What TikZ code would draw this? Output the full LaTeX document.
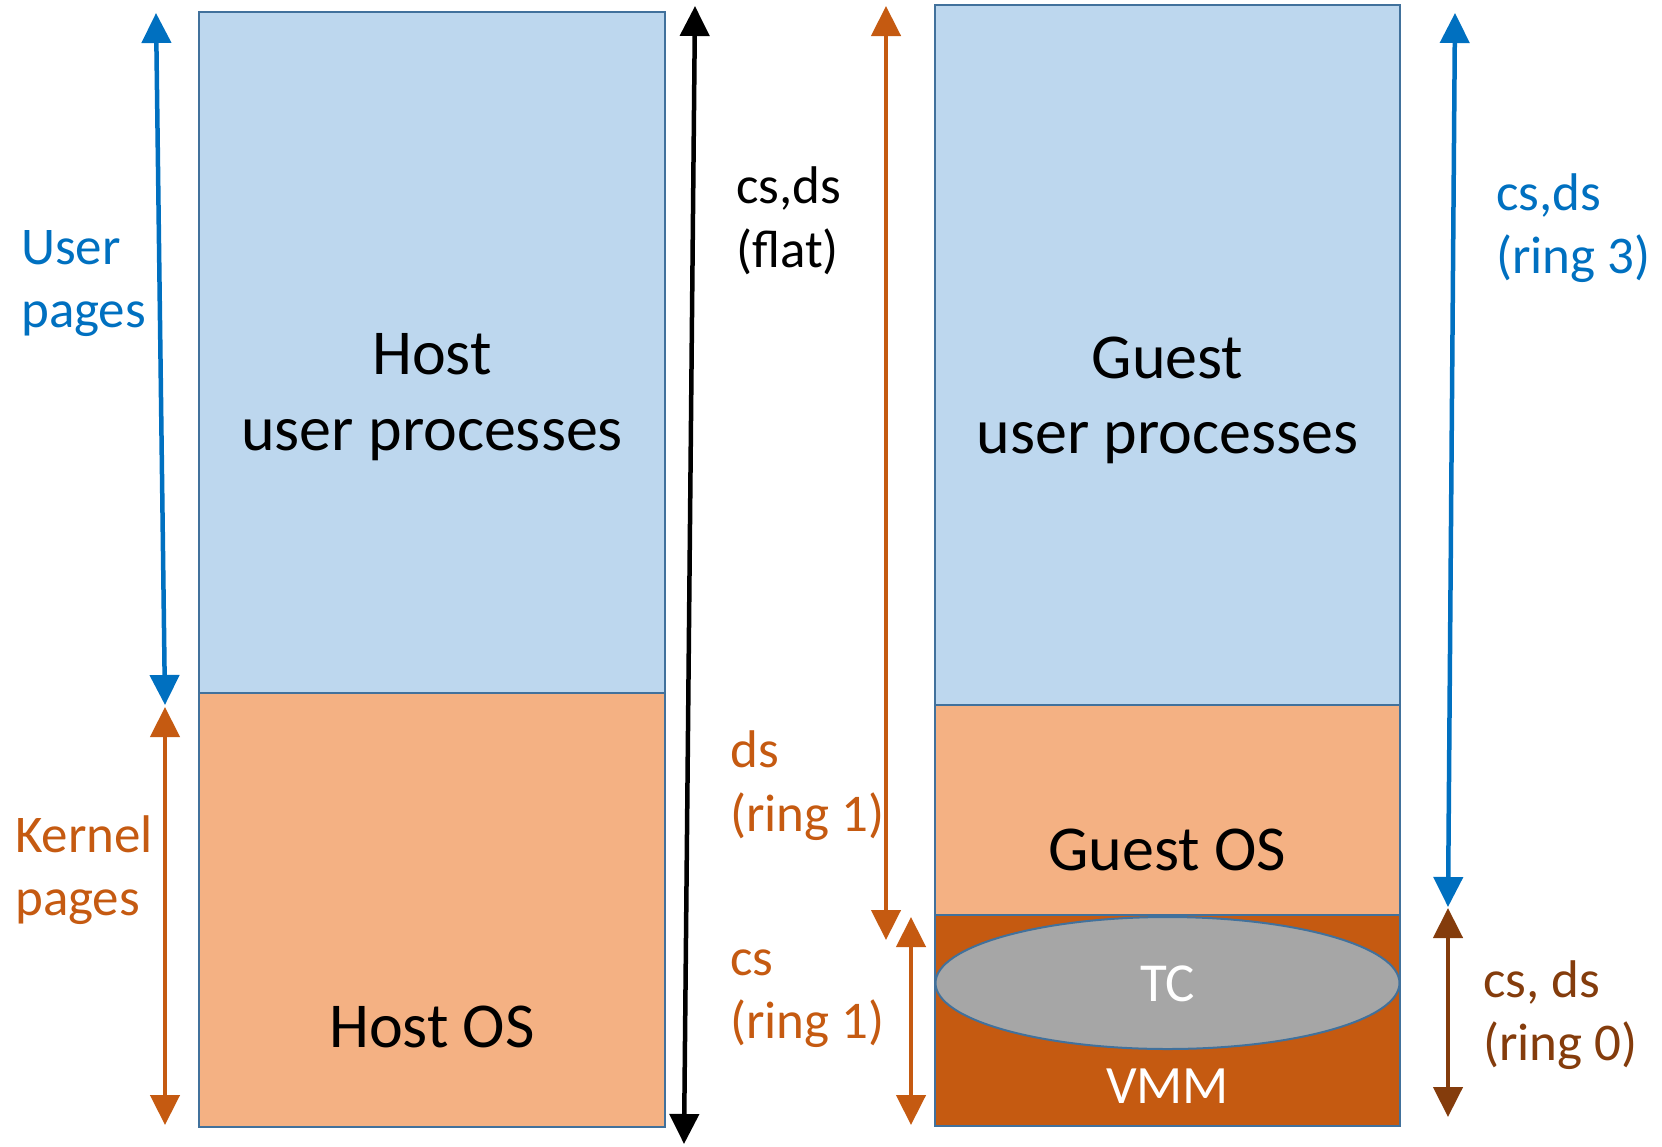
\documentclass[tikz,border=0pt]{standalone}
\usepackage{fontspec}
\setmainfont{Carlito}
\usetikzlibrary{arrows.meta,shapes.geometric}

\definecolor{userfill}{HTML}{BDD7EE}
\definecolor{kernfill}{HTML}{F4B183}
\definecolor{vmmfill}{HTML}{C55A11}
\definecolor{tcfill}{HTML}{A6A6A6}
\definecolor{edge}{HTML}{41719C}
\definecolor{ublue}{HTML}{0070C0}
\definecolor{korange}{HTML}{C55A11}
\definecolor{rbrown}{HTML}{843C0C}

\tikzset{
  region/.style={draw=edge, line width=2pt, inner sep=0pt, outer sep=0pt, rectangle},
  bigtext/.style={font=\fontsize{64}{78}\selectfont, anchor=base, inner sep=0pt},
  sidetext/.style={font=\fontsize{53}{65}\selectfont, anchor=base west, inner sep=0pt},
  span/.style={line width=4.5pt,
    {Triangle[width=29pt,length=30pt]}-{Triangle[width=29pt,length=30pt]}},
}

\begin{document}
\begin{tikzpicture}[x=1pt,y=-1pt]
\useasboundingbox (0,0) rectangle (1662,1146);

% host address space
\node[region, fill=userfill, minimum width=466pt, minimum height=681pt, anchor=north west] (hostuser) at (199,12) {};
\node[region, fill=kernfill, minimum width=466pt, minimum height=434pt, anchor=north west] (hostos) at (199,693) {};
\node[bigtext] (hostA) at (432,374) {Host};
\node[bigtext] (hostB) at (432,450) {user processes};
\node[bigtext] (hostC) at (432,1047) {Host OS};

% guest address space
\node[region, fill=userfill, minimum width=465pt, minimum height=700pt, anchor=north west] (guestuser) at (935,5) {};
\node[region, fill=kernfill, minimum width=465pt, minimum height=210pt, anchor=north west] (guestos) at (935,705) {};
\node[region, fill=vmmfill, minimum width=465pt, minimum height=211pt, anchor=north west] (vmm) at (935,915) {};
\node[ellipse, draw=edge, line width=2pt, fill=tcfill, minimum width=464pt, minimum height=132pt, inner sep=0pt] (tc) at (1167.5,983) {};
\node[bigtext] (guestA) at (1167.5,378) {Guest};
\node[bigtext] (guestB) at (1167.5,453) {user processes};
\node[bigtext] (guestC) at (1167.5,870) {Guest OS};
\node[bigtext, font=\fontsize{55}{67}\selectfont, text=white] (tclabel) at (1167.5,1001) {TC};
\node[bigtext, font=\fontsize{54}{66}\selectfont, text=white] (vmmlabel) at (1167.5,1103) {VMM};

% segment ranges
\coordinate (ua) at (156,13);   \coordinate (ub) at (165,705);
\coordinate (ka) at (165,707);  \coordinate (kb) at (165,1125);
\coordinate (fa) at (695,6);    \coordinate (fb) at (684,1144);
\coordinate (da) at (886,6);    \coordinate (db) at (886,940);
\coordinate (ca) at (911,917);  \coordinate (cb) at (911,1125);
\coordinate (ga) at (1455,13);  \coordinate (gb) at (1448,907);
\coordinate (za) at (1448,908); \coordinate (zb) at (1448,1117);

\draw[span, ublue] (ua) -- (ub);
\draw[span, korange] (ka) -- (kb);
\draw[span, black] (fa) -- (fb);
\draw[span, korange] (da) -- (db);
\draw[span, korange] (ca) -- (cb);
\draw[span, ublue] (ga) -- (gb);
\draw[span, rbrown] (za) -- (zb);

% range labels
\node[sidetext, text=ublue] (userA) at (21,264) {User};
\node[sidetext, text=ublue] (userB) at (21,327) {pages};
\node[sidetext, text=korange] (kernA) at (15,852) {Kernel};
\node[sidetext, text=korange] (kernB) at (15,915) {pages};
\node[sidetext] (flatA) at (736,203) {cs,ds};
\node[sidetext] (flatB) at (736,267) {(flat)};
\node[sidetext, text=korange] (dsA) at (730,767) {ds};
\node[sidetext, text=korange] (dsB) at (730,831) {(ring 1)};
\node[sidetext, text=korange] (csA) at (730,975) {cs};
\node[sidetext, text=korange] (csB) at (730,1038) {(ring 1)};
\node[sidetext, text=ublue] (r3A) at (1496,210) {cs,ds};
\node[sidetext, text=ublue] (r3B) at (1496,273) {(ring 3)};
\node[sidetext, text=rbrown] (r0A) at (1483,997) {cs, ds};
\node[sidetext, text=rbrown] (r0B) at (1483,1060) {(ring 0)};
\end{tikzpicture}
\end{document}
